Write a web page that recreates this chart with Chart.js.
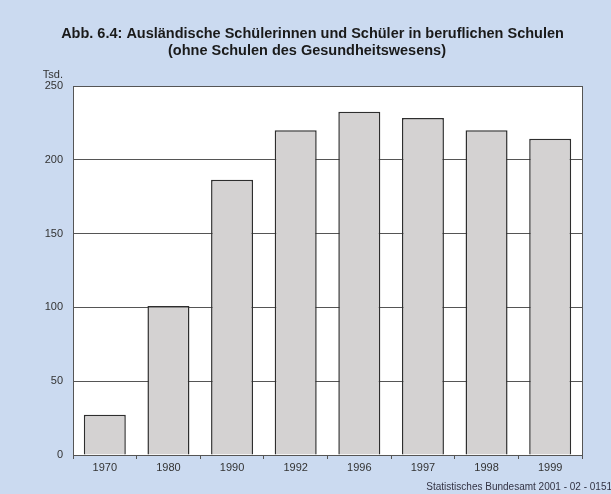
<!DOCTYPE html>
<html>
<head>
<meta charset="utf-8">
<script src="https://cdn.jsdelivr.net/npm/chart.js@4"></script>
<style>
html,body{margin:0;padding:0;background:#cbdaf0;}
#wrap{width:611px;height:494px;position:relative;}
</style>
</head>
<body>
<div id="wrap"><canvas id="c" width="611" height="494"></canvas></div>
<script>
const categories = ['1970','1980','1990','1992','1996','1997','1998','1999'];
const values = [27.3, 101, 186.4, 220, 232.5, 228.3, 220, 214.2];
const yTicks = [0, 50, 100, 150, 200, 250];
const titleLines = ['Abb. 6.4: Ausländische Schülerinnen und Schüler in beruflichen Schulen', '(ohne Schulen des Gesundheitswesens)'];
const unitLabel = 'Tsd.';
const sourceText = 'Statistisches Bundesamt 2001 - 02 - 0151';

const FONT = '"Liberation Sans", Arial, sans-serif';

const decor = {
  id: 'decor',
  beforeDraw(chart) {
    const ctx = chart.ctx, a = chart.chartArea;
    ctx.save();
    ctx.fillStyle = '#ffffff';
    ctx.fillRect(a.left, a.top, a.right - a.left, a.bottom - a.top);
    ctx.restore();
  },
  afterDraw(chart) {
    const ctx = chart.ctx, a = chart.chartArea;
    ctx.save();
    ctx.strokeStyle = '#555';
    ctx.lineWidth = 1;
    ctx.strokeRect(Math.round(a.left) + 0.5, Math.round(a.top) + 0.5, Math.round(a.right - a.left), Math.round(a.bottom - a.top));
    ctx.fillStyle = '#1a1a1a';
    ctx.textAlign = 'center';
    ctx.textBaseline = 'middle';
    ctx.font = 'bold 14.5px ' + FONT;
    ctx.fillText(titleLines[0], 312.5, 33.5);
    ctx.fillText(titleLines[1], 307, 51);
    ctx.font = '11px ' + FONT;
    ctx.fillStyle = '#333';
    ctx.textAlign = 'right';
    ctx.fillText(unitLabel, 63, 75);
    ctx.font = '10px ' + FONT;
    ctx.fillStyle = '#334';
    ctx.fillText(sourceText, 612, 487);
    ctx.restore();
  }
};

new Chart(document.getElementById('c'), {
  type: 'bar',
  data: {
    labels: categories,
    datasets: [{
      data: values,
      backgroundColor: '#d4d2d2',
      borderColor: '#2e2e2e',
      borderWidth: 1.5,
      barPercentage: 0.66,
      categoryPercentage: 1
    }]
  },
  options: {
    responsive: false,
    animation: false,
    devicePixelRatio: 1,
    layout: { padding: { top: 86, right: 29, bottom: 19, left: 0 } },
    plugins: { legend: { display: false }, title: { display: false }, tooltip: { enabled: false } },
    scales: {
      x: {
        grid: { offset: true, drawOnChartArea: false, drawTicks: true, tickLength: 4, color: '#555' },
        border: { color: '#555', width: 1 },
        ticks: { color: '#333', font: { family: FONT, size: 11 }, padding: 2, maxRotation: 0 },
        afterFit(s) { s.height = 20; }
      },
      y: {
        min: 0, max: 250,
        afterBuildTicks(s) { s.ticks = yTicks.map(v => ({ value: v })); },
        grid: { color: '#555', drawTicks: false, lineWidth: 1 },
        border: { color: '#555', width: 1 },
        ticks: { color: '#333', font: { family: FONT, size: 11 }, padding: 10 },
        afterFit(s) { s.width = 73; }
      }
    }
  },
  plugins: [decor]
});
</script>
</body>
</html>
